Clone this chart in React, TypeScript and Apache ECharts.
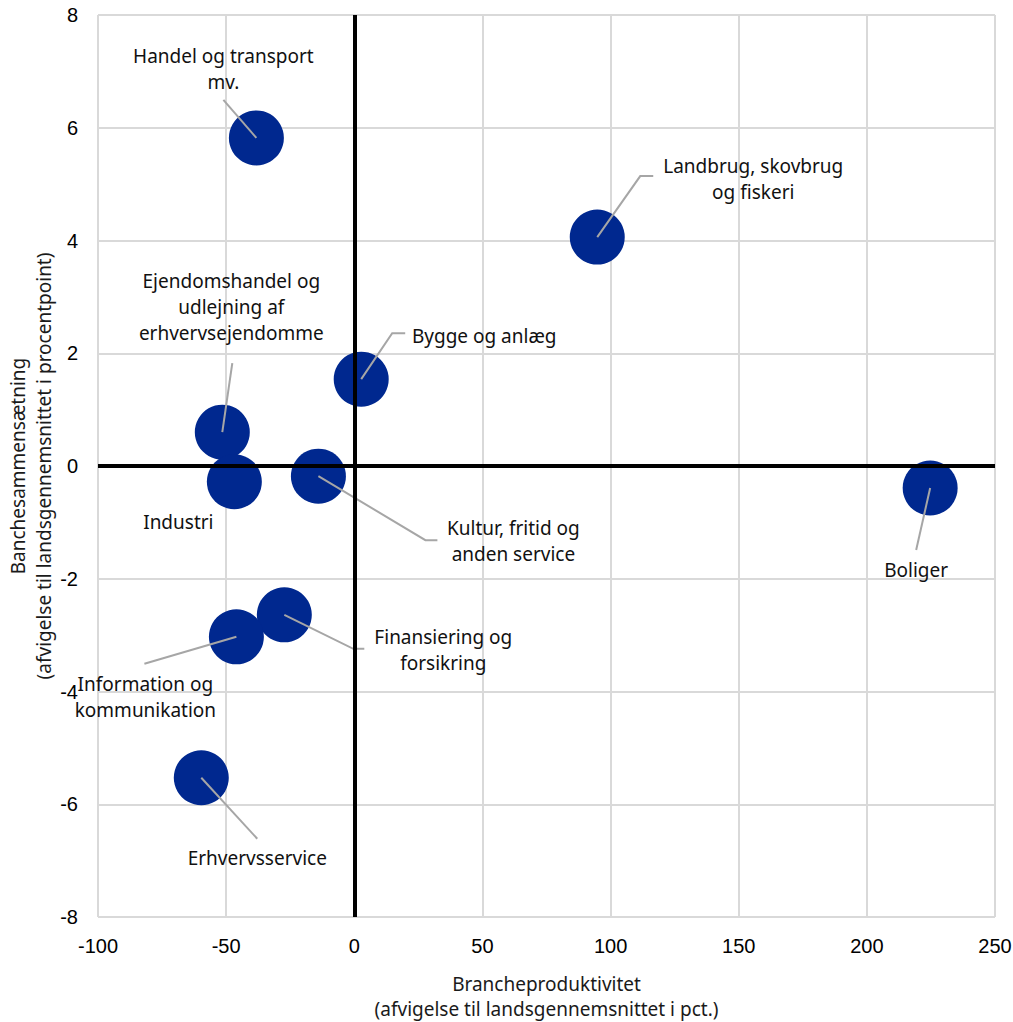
import React, { useEffect, useRef } from 'react';
import * as echarts from 'echarts';

// ---- data ----
const categories: string[] = [
  'Handel og transport\nmv.',
  'Landbrug, skovbrug\nog fiskeri',
  'Bygge og anlæg',
  'Ejendomshandel og\nudlejning af\nerhvervsejendomme',
  'Industri',
  'Kultur, fritid og\nanden service',
  'Boliger',
  'Finansiering og\nforsikring',
  'Information og\nkommunikation',
  'Erhvervsservice',
];
const productivity: number[] = [-38.2, 94.8, 2.7, -51.5, -46.8, -14.0, 224.7, -27.3, -46.0, -59.7];
const composition: number[] = [5.82, 4.06, 1.54, 0.6, -0.28, -0.18, -0.39, -2.64, -3.03, -5.53];

const xMin = -100, xMax = 250, xStep = 50;
const yMin = -8, yMax = 8, yStep = 2;

const xTitle = 'Brancheproduktivitet\n(afvigelse til landsgennemsnittet i pct.)';
const yTitle = 'Banchesammensætning\n(afvigelse til landsgennemsnittet i procentpoint)';

// ---- label layout (pixel offsets from the bubble centre) ----
const leaderPoints: number[][][] = [
  [[-33, -38]],
  [[43, -61], [56, -61]],
  [[31, -46], [44, -46]],
  [[10, -69]],
  [],
  [[107, 64], [119, 64]],
  [[-14, 62]],
  [[69, 34], [80, 34]],
  [[-92, 27]],
  [[56, 61]],
];
const labelOffsets: number[][] = [
  [-33, -69],
  [156, -58],
  [123, -43],
  [9, -125],
  [-56, 40],
  [195, 65],
  [-14, 82],
  [159, 35],
  [-91, 60],
  [56, 80],
];

const BUBBLE = '#00288f';
const GRID = '#d9d9d9';
const LEADER = '#a6a6a6';
const LABEL_FONT = '"Noto Sans", "Open Sans", sans-serif';
const TICK_FONT = '"Liberation Sans", Arial, sans-serif';

export default function App() {
  const ref = useRef<HTMLDivElement>(null);

  useEffect(() => {
    if (!ref.current) return;
    document.body.style.margin = '0';
    document.body.style.overflow = 'hidden';
    const chart = echarts.init(ref.current, undefined, { renderer: 'svg' });
    const points = productivity.map((x, i) => [x, composition[i], i]);

    chart.setOption({
      animation: false,
      grid: { left: 98, right: 18, top: 15, bottom: 105, containLabel: false, outerBoundsMode: 'none' },
      xAxis: {
        type: 'value',
        min: xMin,
        max: xMax,
        interval: xStep,
        name: xTitle,
        nameLocation: 'middle',
        nameGap: 54,
        nameMoveOverlap: false,
        nameTextStyle: { fontFamily: LABEL_FONT, fontSize: 19, color: '#1a1a1a', lineHeight: 25 },
        axisLine: { show: true, lineStyle: { color: GRID, width: 2 } },
        axisTick: { show: false },
        axisLabel: { color: '#000', fontSize: 20, fontFamily: TICK_FONT, margin: 19 },
        splitLine: { show: true, lineStyle: { color: GRID, width: 2 } },
      },
      yAxis: {
        type: 'value',
        min: yMin,
        max: yMax,
        interval: yStep,
        name: yTitle,
        nameLocation: 'middle',
        nameGap: 41,
        nameMoveOverlap: false,
        nameTextStyle: { fontFamily: LABEL_FONT, fontSize: 19, color: '#1a1a1a', lineHeight: 26 },
        axisLine: { show: true, lineStyle: { color: GRID, width: 2 } },
        axisTick: { show: false },
        axisLabel: { color: '#000', fontSize: 20, fontFamily: TICK_FONT, margin: 20 },
        splitLine: { show: true, lineStyle: { color: GRID, width: 2 } },
      },
      series: [
        {
          type: 'scatter',
          data: [],
          z: 1,
          markLine: {
            silent: true,
            symbol: 'none',
            label: { show: false },
            lineStyle: { color: '#000', width: 4, type: 'solid' },
            data: [{ xAxis: 0 }, { yAxis: 0 }],
          },
        },
        {
          type: 'scatter',
          z: 3,
          symbolSize: 55,
          itemStyle: { color: BUBBLE, opacity: 1 },
          data: points,
        },
        {
          type: 'custom',
          z: 4,
          clip: false,
          data: points,
          renderItem: (params: any, api: any) => {
            const i = api.value(2);
            const c = api.coord([api.value(0), api.value(1)]);
            const children: any[] = [];
            const lp = leaderPoints[i];
            if (lp.length) {
              const pts = [[c[0], c[1]], ...lp.map((d) => [c[0] + d[0], c[1] + d[1]])];
              children.push({
                type: 'polyline',
                shape: { points: pts },
                style: { stroke: LEADER, lineWidth: 2, fill: 'none' },
              });
            }
            const o = labelOffsets[i];
            children.push({
              type: 'text',
              x: c[0] + o[0],
              y: c[1] + o[1],
              style: {
                text: categories[i],
                fill: '#111',
                font: `19px ${LABEL_FONT}`,
                lineHeight: 26,
                align: 'center',
                verticalAlign: 'middle',
              },
            });
            return { type: 'group', children };
          },
        },
      ],
    });

    return () => chart.dispose();
  }, []);

  return (
    <div
      ref={ref}
      style={{ position: 'absolute', left: 0, top: 0, width: 1013, height: 1022 }}
    />
  );
}
